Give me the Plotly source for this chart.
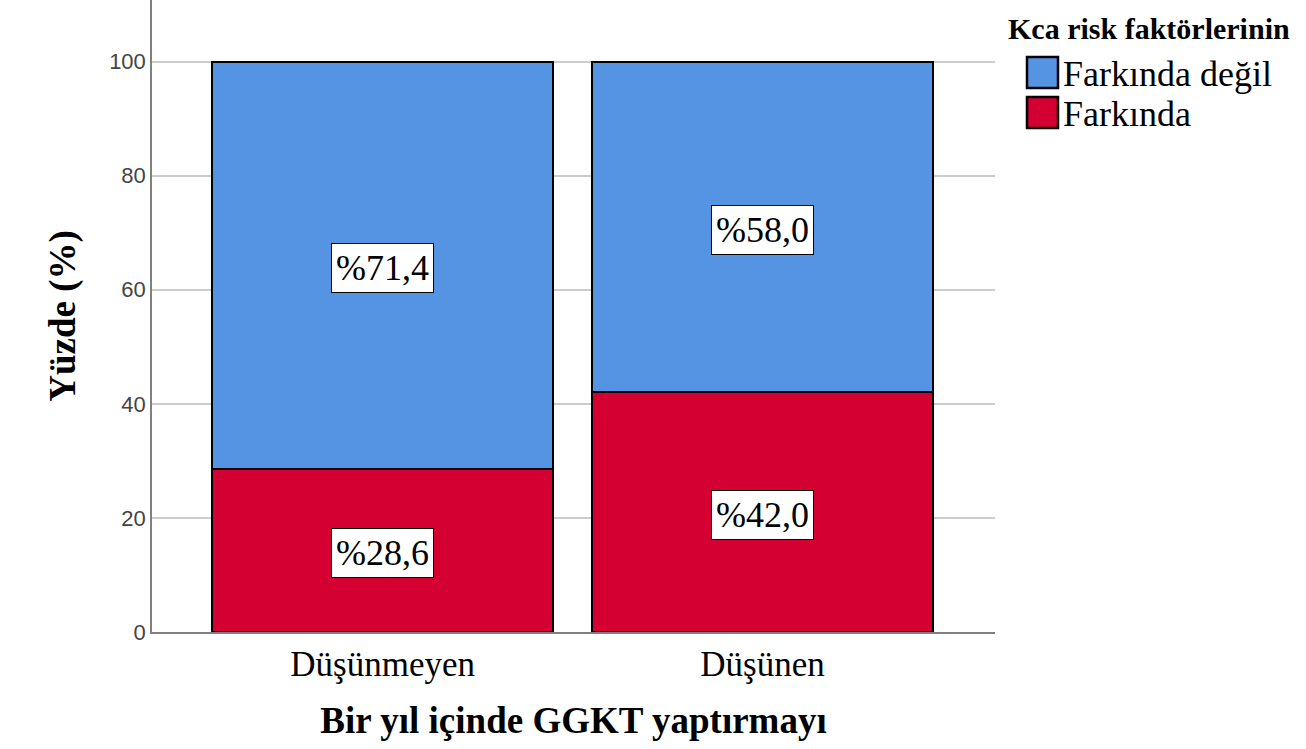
import plotly.graph_objects as go

categories = ["Düşünmeyen", "Düşünen"]
farkinda = [28.6, 42.0]
farkinda_degil = [71.4, 58.0]
series_names = ["Farkında", "Farkında değil"]
legend_title = "Kca risk faktörlerinin"
y_ticks = [0, 20, 40, 60, 80, 100]

BLUE = "#5593E3"
RED = "#D50032"
SERIF = "Liberation Serif, Times New Roman, serif"

W, H = 1306, 749
ML, MR, MT, MB = 152, 311, 0, 117
PW, PH = W - ML - MR, H - MT - MB

x_pos = list(range(len(categories)))

fig = go.Figure()
fig.add_trace(go.Bar(
    x=x_pos, y=farkinda, name=series_names[0], width=0.897,
    marker=dict(color=RED, line=dict(color="black", width=2)),
))
fig.add_trace(go.Bar(
    x=x_pos, y=farkinda_degil, name=series_names[1], width=0.897,
    marker=dict(color=BLUE, line=dict(color="black", width=2)),
))

def fmt(v):
    return "%" + f"{v:.1f}".replace(".", ",")

for i in x_pos:
    lo = farkinda[i]
    hi = farkinda_degil[i]
    for yv, val in ((lo / 2, lo), (lo + hi / 2, hi)):
        fig.add_annotation(x=i, y=yv, text=fmt(val), showarrow=False, yshift=-3,
                           bgcolor="white", bordercolor="black", borderwidth=1, borderpad=4,
                           font=dict(family=SERIF, size=36, color="black"))

# manual legend (pixel positions converted to paper coordinates)
def px(x):
    return (x - ML) / PW

def py(y):
    return (H - MB - y) / PH

fig.add_annotation(xref="paper", yref="paper", x=px(1006), y=py(28), xanchor="left", yanchor="middle",
                   text="<b>" + legend_title + "</b>", showarrow=False,
                   font=dict(family=SERIF, size=30, color="black"))
legend_items = [(series_names[1], BLUE), (series_names[0], RED)]
for k, (name, col) in enumerate(legend_items):
    top = 57 + k * 40
    fig.add_shape(type="rect", xref="paper", yref="paper",
                  x0=px(1027), x1=px(1058), y0=py(top + 31), y1=py(top),
                  fillcolor=col, line=dict(color="black", width=2.5))
    fig.add_annotation(xref="paper", yref="paper", x=px(1061), y=py(top + 17), xanchor="left", yanchor="middle",
                       text=name, showarrow=False, font=dict(family=SERIF, size=36, color="black"))

fig.update_layout(
    barmode="stack",
    width=W, height=H,
    margin=dict(l=ML, r=MR, t=MT, b=MB, autoexpand=False),
    plot_bgcolor="white", paper_bgcolor="white",
    showlegend=False,
    xaxis=dict(
        range=[-0.607, 1.612], tickmode="array", tickvals=x_pos, ticktext=categories,
        showgrid=False, zeroline=False, showline=True, linecolor="#808080", linewidth=1.5,
        ticks="", tickfont=dict(family=SERIF, size=35, color="black"),
        title=dict(text="<b>Bir yıl içinde GGKT yaptırmayı</b>", font=dict(family=SERIF, size=37, color="black"), standoff=24),
    ),
    yaxis=dict(
        range=[0, 110.8], tickmode="array", tickvals=y_ticks,
        showgrid=True, gridcolor="#cccccc", gridwidth=1.5, zeroline=False,
        showline=True, linecolor="#808080", linewidth=1.5, ticks="",
        tickfont=dict(family="Liberation Sans, Arial, sans-serif", size=22, color="#444"),
        title=dict(text="<b>Yüzde (%)</b>", font=dict(family=SERIF, size=37, color="black"), standoff=22),
    ),
)

fig.write_html("out.html", config={"displayModeBar": False},
               post_script="document.body.style.margin='0';document.body.style.padding='0';")
